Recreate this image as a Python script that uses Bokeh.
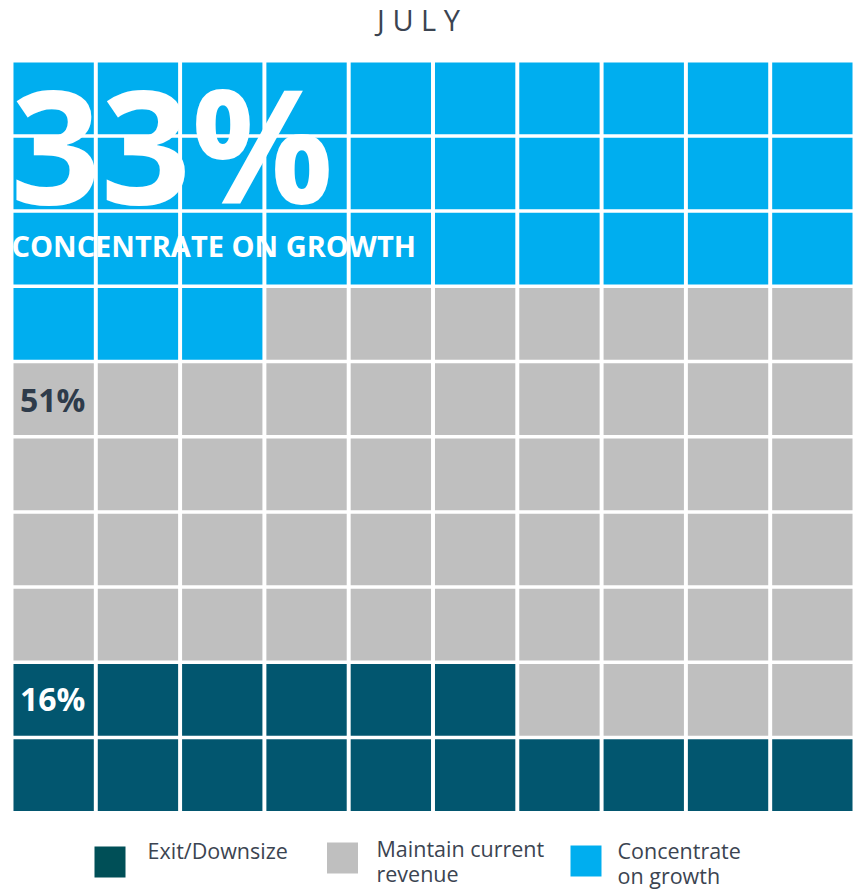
from bokeh.plotting import figure
from bokeh.models import Range1d, ColumnDataSource
from bokeh.core.properties import value
from bokeh.embed import file_html
from bokeh.resources import INLINE

# ---- data ----
title = "J U L Y"
categories = ["Exit/Downsize", "Maintain current\nrevenue", "Concentrate\non growth"]
values = [16, 51, 33]
value_labels = ["16%", "51%", "33%"]
headline = "CONCENTRATE ON GROWTH"
cell_colors = ["#02566F", "#BFBFBF", "#00AEEF"]
legend_colors = ["#004F57", "#BFBFBF", "#00AEEF"]

# ---- layout constants ----
W, H = 853, 891
N = 10
X0, PX = 11.0, 84.3
Y0, PY = 60.2, 75.2
FR = 0.953
TXT = "#3B4451"

# assign cells: blue fills from top (row-major), dark fills from bottom rows left->right
n_dark, n_gray, n_blue = values
xs, ys, cols = [], [], []
for r in range(N):
    for c in range(N):
        top_idx = r * N + c
        bot_idx = (N - 1 - r) * N + c
        if top_idx < n_blue:
            col = cell_colors[2]
        elif bot_idx < n_dark:
            col = cell_colors[0]
        else:
            col = cell_colors[1]
        xs.append(X0 + (c + 0.5) * PX)
        ys.append(Y0 + (r + 0.5) * PY)
        cols.append(col)

p = figure(width=W, height=H, x_range=Range1d(0, W), y_range=Range1d(H, 0),
           output_backend="svg", toolbar_location=None, min_border=0,
           x_axis_location=None, y_axis_location=None)
p.grid.visible = False
p.outline_line_color = None
p.background_fill_color = "white"

src = ColumnDataSource(dict(x=xs, y=ys, color=cols))
p.rect(x="x", y="y", width=PX * FR, height=PY * FR, fill_color="color",
       line_color=None, source=src)

# title
p.text(x=[418], y=[19], text=[title], text_font=value("Open Sans"),
       text_font_size="29px", text_color=TXT, text_align="center",
       text_baseline="alphabetic")

# big headline
p.text(x=[10], y=[142], text=[value_labels[2]], text_font=value("Open Sans"),
       text_font_style="bold", text_font_size="158px", text_color="white",
       text_baseline="alphabetic")
p.text(x=[11], y=[245], text=[headline], text_font=value("Open Sans"),
       text_font_style="bold", text_font_size="29px", text_color="white",
       text_baseline="alphabetic")

# smaller value labels
p.text(x=[19.5, 19.5], y=[399, 698], text=[value_labels[1], value_labels[0]],
       text_font=value("Open Sans"), text_font_style="bold",
       text_font_size="32px", text_color=["#2E3B4A", "white"],
       text_baseline="alphabetic")

# legend
sw_x = [109.5, 342.0, 585.5]
sw_y = [861.5, 857.5, 860.5]
p.rect(x=sw_x, y=sw_y, width=31, height=31, fill_color=legend_colors, line_color=None)
p.text(x=[147, 376, 617], y=[835, 833, 835], text=categories,
       text_font=value("Open Sans"), text_font_size="21.5px", text_color=TXT,
       text_baseline="top", text_line_height=0.87)

open("out.html", "w").write(file_html(p, INLINE))
